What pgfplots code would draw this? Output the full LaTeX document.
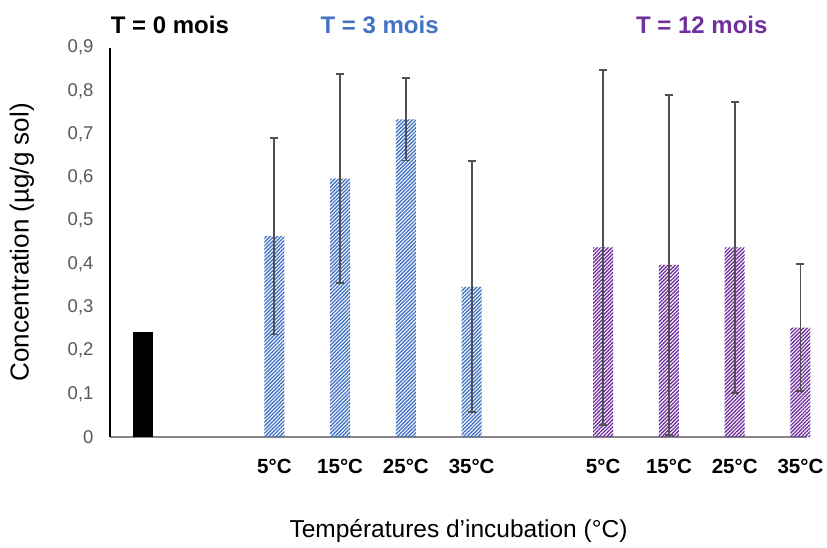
\documentclass[border=0pt]{standalone}
\usepackage{fontspec}
\setmainfont{Liberation Sans}
\usepackage{pgfplots}
\pgfplotsset{compat=1.18}
\usetikzlibrary{patterns.meta}
\definecolor{cblue}{HTML}{4472C4}
\definecolor{cpurple}{HTML}{7030A0}
\definecolor{tgray}{HTML}{595959}
\definecolor{egray}{HTML}{505050}
\definecolor{agray}{HTML}{868686}
\begin{document}
\begin{tikzpicture}
\begin{axis}[
  scale only axis, width=697pt, height=389.5pt,
  xmin=-0.5, xmax=10.1, ymin=0, ymax=0.9,
  axis x line=bottom, axis y line=left,
  x axis line style={-, agray, line width=1.3pt},
  y axis line style={-, black, line width=1.3pt},
  clip=false,
  major tick length=0pt,
  ytick={0,0.1,0.2,0.3,0.4,0.5,0.6,0.7,0.8,0.9},
  yticklabel style={/pgf/number format/.cd, use comma, fixed, precision=1, /tikz/.cd,
    text=tgray, font=\fontsize{18.5}{21}\selectfont, anchor=east, xshift=-13pt},
  /pgf/number format/assume math mode=true,
  xtick={2,3,4,5,7,8,9,10},
  xticklabels={5°C,15°C,25°C,35°C,5°C,15°C,25°C,35°C},
  xticklabel style={font=\fontsize{20.5}{24}\selectfont\bfseries, anchor=center, yshift=-29pt},
  ylabel={Concentration (µg/g sol)},
  ylabel style={at={([xshift=-88pt]axis description cs:0,0.5)}, anchor=center, font=\fontsize{26}{30}\selectfont},
  xlabel={Températures d’incubation (°C)},
  xlabel style={at={([yshift=-94pt]axis description cs:0.5,0)}, anchor=center, font=\fontsize{24.5}{28}\selectfont},
  error bars/y dir=both, error bars/y explicit,
  error bars/error bar style={line width=1.8pt, color=egray},
  error bars/error mark options={rotate=90, mark size=4pt, line width=1.8pt, color=egray},
]
\coordinate (O) at (axis cs:-0.5,0);
\addplot[ybar, bar width=20pt, bar shift=0pt, fill=black, draw=none] coordinates {(0,0.243)};
\addplot[ybar, bar width=20pt, bar shift=0pt, draw=none,
  pattern={Lines[angle=45,distance=2.6pt,line width=1.35pt]}, pattern color=cblue]
  table[x=x, y=y, y error=e] {
x y e
2 0.464 0.227
3 0.597 0.242
4 0.734 0.095
5 0.347 0.290
};
\addplot[ybar, bar width=20pt, bar shift=0pt, draw=none,
  pattern={Lines[angle=45,distance=2.6pt,line width=1.35pt]}, pattern color=cpurple]
  table[x=x, y=y, y error=e] {
x y e
7 0.438 0.410
8 0.398 0.393
9 0.438 0.336
10 0.253 0.147
};
\node[font=\fontsize{24}{28}\selectfont\bfseries, text=black] at (axis cs:0.41,0.952) {T = 0 mois};
\node[font=\fontsize{24}{28}\selectfont\bfseries, text=cblue] at (axis cs:3.6,0.952) {T = 3 mois};
\node[font=\fontsize{24}{28}\selectfont\bfseries, text=cpurple] at (axis cs:8.5,0.952) {T = 12 mois};
\end{axis}
\path (O) ++(-110pt,-110pt) rectangle ++(827pt,547pt);
\end{tikzpicture}
\end{document}
